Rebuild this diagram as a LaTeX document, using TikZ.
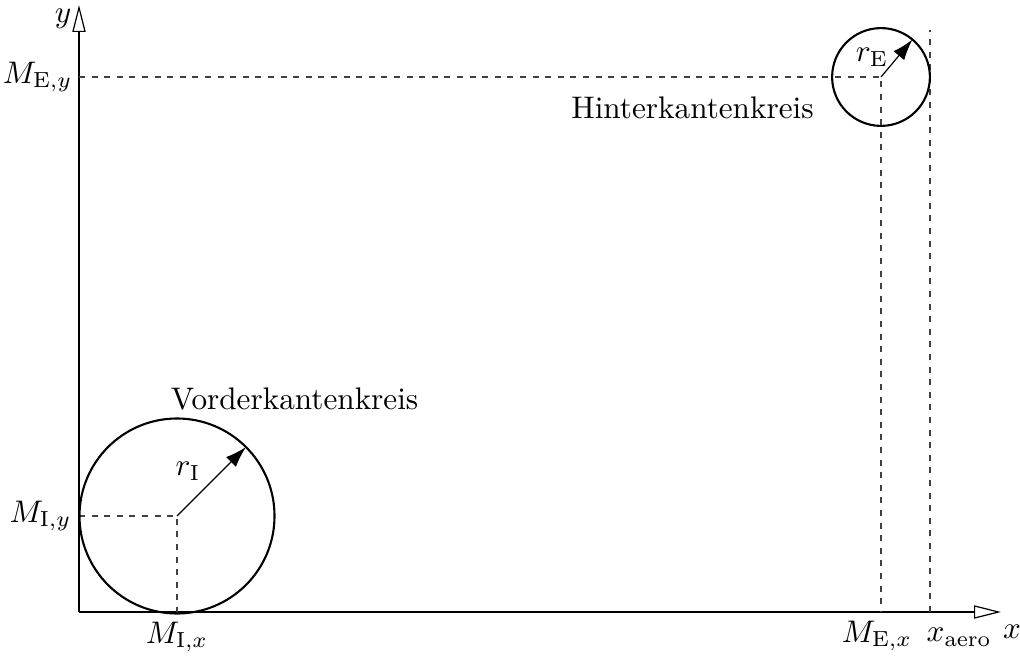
\documentclass[tikz,border=0pt]{standalone}
\usetikzlibrary{arrows.meta}
\newcommand{\sbx}[1]{\scalebox{1.04}{#1}}
\begin{document}
\begin{tikzpicture}[x=0.3333pt,y=-0.3333pt,
  axis/.style={line width=0.4pt,-{Triangle[open,length=9pt,width=4.4pt]}},
  dsh/.style={line width=0.4pt,black!75,dash pattern=on 2pt off 2.2pt},
  kreis/.style={line width=0.7pt},
  radarrow/.style={line width=0.4pt,-{Latex[length=7pt,width=4.6pt]}},
  lbl/.style={inner sep=0pt}]
\useasboundingbox (0,0) rectangle (1020,659);
\coordinate (O) at (79,612);
\coordinate (ytip) at (79,5);
\coordinate (xtip) at (1001,612);
\coordinate (MI) at (177,516);
\coordinate (ME) at (881,77);
\coordinate (MIy) at (79,516);
\coordinate (MIx) at (177,612);
\coordinate (MEy) at (79,77);
\coordinate (MEx) at (881,612);
\coordinate (xa0) at (930,612);
\coordinate (xa1) at (930,30);
% axes
\draw[axis] (O) -- (ytip);
\draw[axis] (O) -- (xtip);
% dashed guides
\draw[dsh] (MIy) -- (MI) -- (MIx);
\draw[dsh] (MEy) -- (ME) -- (MEx);
\draw[dsh] (xa0) -- (xa1);
% circles
\draw[kreis] (MI) circle[radius=32.5pt];
\draw[kreis] (ME) circle[radius=16.3pt];
\draw[radarrow] (MI) -- ++(45:32.5pt) coordinate (RI);
\draw[radarrow] (ME) -- ++(50:16.3pt) coordinate (RE);
% labels
\node[lbl] (lrI) at (188,471) {\sbx{$r_{\mathrm{I}}$}};
\node[lbl] (lrE) at (872,57) {\sbx{$r_{\mathrm{E}}$}};
\node[lbl,anchor=south] (lVK) at (294.5,411) {\sbx{Vorderkantenkreis}};
\node[lbl,anchor=south] (lHK) at (692.5,119) {\sbx{Hinterkantenkreis}};
\node[lbl,anchor=east] (lMIy) at (72,516) {\sbx{$M_{\mathrm{I},y}$}};
\node[lbl,anchor=east] (lMEy) at (73,77) {\sbx{$M_{\mathrm{E},y}$}};
\node[lbl] (lMIx) at (177,637) {\sbx{$M_{\mathrm{I},x}$}};
\node[lbl] (lMEx) at (877,636) {\sbx{$M_{\mathrm{E},x}$}};
\node[lbl,anchor=west] (lxa) at (926,637) {\sbx{$x_{\mathrm{aero}}$}};
\node[lbl] (lx) at (1012,632) {\sbx{$x$}};
\node[lbl] (ly) at (63,19) {\sbx{$y$}};
\end{tikzpicture}
\end{document}
